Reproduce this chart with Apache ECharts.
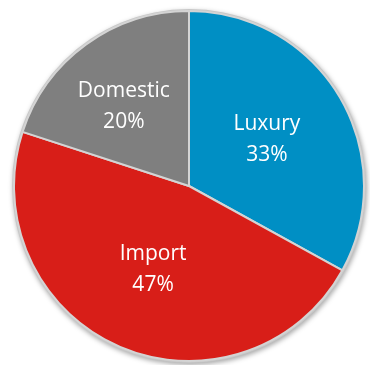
<!DOCTYPE html>
<html><head><meta charset="utf-8">
<script src="https://cdn.jsdelivr.net/npm/echarts@6/dist/echarts.min.js"></script>
<style>html,body{margin:0;padding:0;background:#fff;}#c{width:370px;height:365px;}</style>
</head><body><div id="c"></div>
<script>
var categories = ['Luxury', 'Import', 'Domestic'];
var values = [33, 47, 20];
var colors = ['#008fc4', '#d81e18', '#7f7f7f'];

var chart = echarts.init(document.getElementById('c'));
var data = categories.map(function (n, i) {
  var d = { name: n, value: values[i], itemStyle: { color: colors[i] } };
  if (n === 'Domestic') d.label = { offset: [-12, -6] };
  return d;
});
chart.setOption({
  animation: false,
  series: [
    {
      type: 'pie', center: [189, 186], radius: 177, silent: true,
      label: { show: false }, labelLine: { show: false },
      data: [{ value: 1, itemStyle: { color: '#c8c8c8', shadowBlur: 5, shadowOffsetX: 1, shadowOffsetY: 2, shadowColor: 'rgba(0,0,0,0.35)' } }]
    },
    {
      type: 'pie', center: [189, 186], radius: 175, startAngle: 90, clockwise: true,
      itemStyle: { borderColor: '#d4d4d4', borderWidth: 2 },
      label: {
        show: true, position: 'inside', color: '#fff', fontSize: 21,
        fontFamily: 'Open Sans', lineHeight: 31,
        formatter: function (p) { return p.name + '\n' + Math.round(p.percent) + '%'; }
      },
      labelLine: { show: false },
      data: data
    }
  ]
});
</script></body></html>
